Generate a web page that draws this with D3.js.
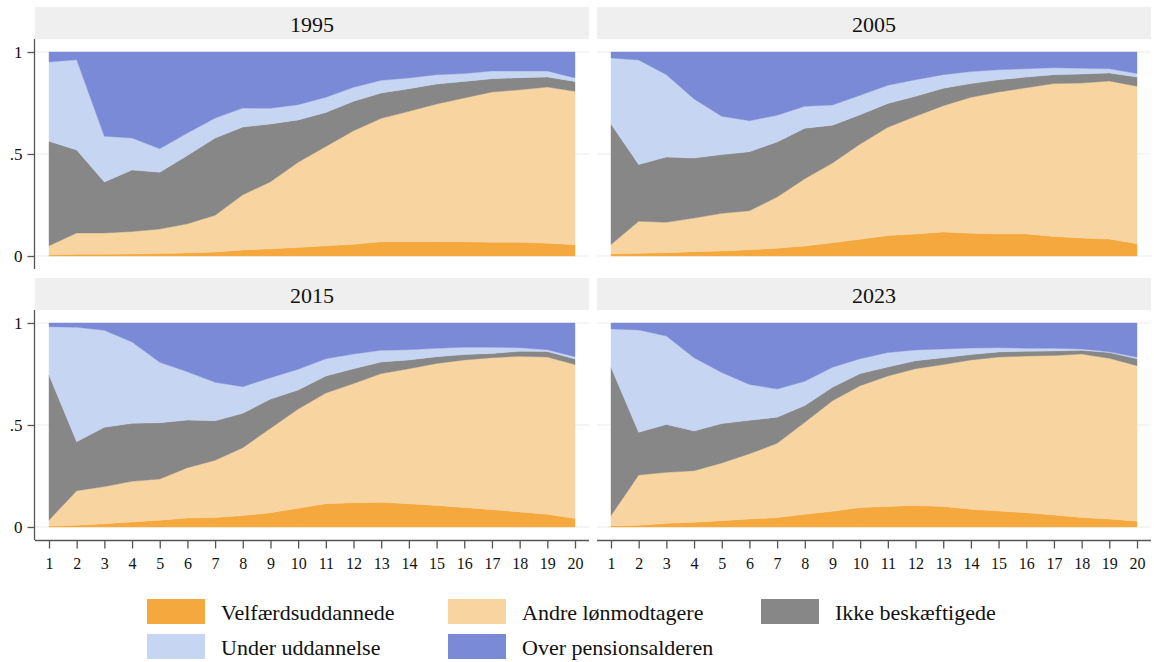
<!DOCTYPE html>
<html>
<head>
<meta charset="utf-8">
<script src="https://cdn.jsdelivr.net/npm/d3@7"></script>
<style>
    body { margin: 0; background: #fff; }
    svg { display: block; font-family: "Liberation Serif", "Times New Roman", serif; }
</style>
</head>
<body>
<svg id="chart" width="1154" height="662"></svg>
<script>
// data, shares per group (x = 1..20)
var years = ['1995', '2005', '2015', '2023'];
var groups = ['Velfærdsuddannede', 'Andre lønmodtagere', 'Ikke beskæftigede', 'Under uddannelse', 'Over pensionsalderen'];
var xTicks = d3.range(1, 21);
var yTicks = [0, 0.5, 1];
var yTickLabels = ['0', '.5', '1'];

var velf1995 = [0.005,0.008,0.008,0.010,0.012,0.015,0.020,0.030,0.035,0.042,0.050,0.057,0.070,0.070,0.070,0.070,0.067,0.067,0.063,0.055];
var andre1995 = [0.045,0.105,0.105,0.110,0.120,0.143,0.180,0.270,0.329,0.418,0.487,0.557,0.605,0.639,0.675,0.705,0.737,0.748,0.765,0.752];
var ikke1995 = [0.512,0.407,0.250,0.302,0.278,0.335,0.378,0.332,0.283,0.207,0.167,0.144,0.124,0.111,0.098,0.081,0.065,0.059,0.049,0.049];
var under1995 = [0.389,0.442,0.224,0.156,0.116,0.110,0.098,0.093,0.077,0.075,0.074,0.069,0.062,0.053,0.046,0.038,0.038,0.033,0.030,0.017];
var over1995 = [0.049,0.038,0.413,0.422,0.474,0.397,0.324,0.275,0.276,0.258,0.222,0.173,0.139,0.127,0.111,0.106,0.093,0.093,0.093,0.127];

var velf2005 = [0.010,0.013,0.016,0.021,0.025,0.031,0.038,0.049,0.065,0.082,0.100,0.108,0.118,0.111,0.108,0.108,0.096,0.088,0.083,0.060];
var andre2005 = [0.046,0.157,0.149,0.165,0.184,0.191,0.251,0.330,0.391,0.467,0.531,0.577,0.619,0.667,0.696,0.717,0.749,0.760,0.775,0.772];
var ikke2005 = [0.591,0.278,0.320,0.294,0.288,0.289,0.270,0.247,0.185,0.144,0.117,0.098,0.085,0.067,0.060,0.052,0.044,0.044,0.039,0.045];
var under2005 = [0.324,0.513,0.404,0.290,0.188,0.152,0.131,0.108,0.099,0.095,0.089,0.081,0.067,0.059,0.049,0.041,0.034,0.028,0.021,0.017];
var over2005 = [0.029,0.039,0.111,0.230,0.315,0.337,0.310,0.266,0.260,0.212,0.163,0.136,0.111,0.096,0.087,0.082,0.077,0.080,0.082,0.106];

var velf2015 = [0.005,0.008,0.016,0.025,0.033,0.044,0.046,0.056,0.070,0.092,0.114,0.119,0.121,0.114,0.106,0.096,0.085,0.074,0.062,0.042];
var andre2015 = [0.029,0.170,0.182,0.199,0.202,0.247,0.281,0.333,0.414,0.486,0.543,0.584,0.631,0.662,0.696,0.723,0.745,0.763,0.771,0.754];
var ikke2015 = [0.711,0.240,0.291,0.284,0.276,0.233,0.194,0.168,0.143,0.094,0.083,0.073,0.057,0.043,0.033,0.026,0.021,0.024,0.027,0.028];
var under2015 = [0.237,0.561,0.475,0.399,0.296,0.237,0.188,0.131,0.105,0.101,0.085,0.072,0.057,0.050,0.041,0.036,0.030,0.018,0.009,0.011];
var over2015 = [0.018,0.021,0.036,0.093,0.193,0.239,0.291,0.312,0.268,0.227,0.175,0.152,0.134,0.131,0.124,0.119,0.119,0.121,0.131,0.165];

var velf2023 = [0.005,0.008,0.018,0.023,0.031,0.039,0.046,0.062,0.077,0.095,0.101,0.106,0.100,0.087,0.078,0.070,0.059,0.047,0.039,0.028];
var andre2023 = [0.051,0.247,0.250,0.253,0.283,0.320,0.364,0.451,0.542,0.598,0.639,0.670,0.696,0.732,0.755,0.768,0.782,0.801,0.788,0.763];
var ikke2023 = [0.727,0.209,0.235,0.195,0.193,0.164,0.128,0.082,0.066,0.059,0.044,0.039,0.034,0.026,0.025,0.023,0.022,0.018,0.028,0.034];
var under2023 = [0.188,0.502,0.433,0.359,0.250,0.176,0.138,0.119,0.098,0.073,0.071,0.053,0.043,0.032,0.021,0.015,0.013,0.007,0.004,0.007];
var over2023 = [0.029,0.034,0.064,0.170,0.243,0.301,0.324,0.286,0.217,0.175,0.145,0.132,0.127,0.123,0.121,0.124,0.124,0.127,0.141,0.168];

var colors = ['#f4a83d', '#f8d4a0', '#878787', '#c6d5f1', '#7b8ad6'];

var series = {
    '1995': [velf1995, andre1995, ikke1995, under1995, over1995],
    '2005': [velf2005, andre2005, ikke2005, under2005, over2005],
    '2015': [velf2015, andre2015, ikke2015, under2015, over2015],
    '2023': [velf2023, andre2023, ikke2023, under2023, over2023]
};

function rows(year) {
    return xTicks.map(function(x, i) {
        var r = {x: x};
        groups.forEach(function(g, k) { r[g] = series[year][k][i]; });
        return r;
    });
}

var svg = d3.select('#chart');

var panelW = 554, headerH = 32, pad = 14;
var panels = [
    {year: '1995', left: 35, top: 7, col: 0, row: 0},
    {year: '2005', left: 597, top: 7, col: 1, row: 0},
    {year: '2015', left: 35, top: 278, col: 0, row: 1},
    {year: '2023', left: 597, top: 278, col: 1, row: 1}
];

var stack = d3.stack().keys(groups);

panels.forEach(function(p) {
    var g = svg.append('g').attr('transform', 'translate(' + p.left + ',' + p.top + ')');

    // header strip
    g.append('rect')
        .attr('x', 0).attr('y', 0)
        .attr('width', panelW).attr('height', headerH)
        .attr('fill', '#efefef');
    g.append('text')
        .attr('x', panelW / 2).attr('y', headerH / 2 + 1)
        .attr('text-anchor', 'middle')
        .attr('dominant-baseline', 'central')
        .style('font-size', '22px')
        .attr('fill', '#111')
        .text(p.year);

    var x = d3.scaleLinear().domain([1, 20]).range([pad, panelW - pad]);
    var y = d3.scaleLinear().domain([0, 1]).range([249, 45]);

    // gridlines
    g.selectAll('.grid').data(yTicks).enter().append('line')
        .attr('class', 'grid')
        .attr('x1', 0).attr('x2', panelW)
        .attr('y1', function(d) { return y(d); })
        .attr('y2', function(d) { return y(d); })
        .attr('stroke', '#ececec')
        .attr('stroke-width', 1.2);

    var area = d3.area()
        .x(function(d) { return x(d.data.x); })
        .y0(function(d) { return y(d[0]); })
        .y1(function(d) { return y(d[1]); });

    g.selectAll('.layer').data(stack(rows(p.year))).enter().append('path')
        .attr('class', 'layer')
        .attr('d', area)
        .attr('fill', function(d, i) { return colors[i]; })
        .attr('stroke', function(d, i) { return colors[i]; })
        .attr('stroke-width', 0.4);

    // y axis on left column
    if (p.col === 0) {
        var yAxis = d3.axisLeft(y).tickValues(yTicks).tickSize(7).tickPadding(5)
            .tickFormat(function(d, i) { return yTickLabels[i]; });
        var ya = g.append('g').attr('transform', 'translate(-0.5,0)').call(yAxis);
        ya.select('.domain').attr('d', 'M0,' + (headerH) + 'V' + (headerH + 230));
        ya.selectAll('path, line').attr('stroke', '#555').attr('stroke-width', 1.3);
        ya.selectAll('text').style('font-size', '17px').style('font-family', '"Liberation Serif", serif').attr('fill', '#111');
    }

    // x axis on bottom row
    if (p.row === 1) {
        var xAxis = d3.axisBottom(x).tickValues(xTicks).tickSize(8).tickPadding(9)
            .tickFormat(d3.format('d'));
        var xa = g.append('g').attr('transform', 'translate(0,' + (headerH + 230.5) + ')').call(xAxis);
        xa.select('.domain').attr('d', 'M0,0H' + panelW);
        xa.selectAll('path, line').attr('stroke', '#555').attr('stroke-width', 1.3);
        xa.selectAll('text').style('font-size', '16px').style('font-family', '"Liberation Serif", serif').attr('fill', '#111');
    }
});

// legend
var legendPos = [
    {x: 147, y: 599}, {x: 448, y: 599}, {x: 761, y: 599},
    {x: 147, y: 634}, {x: 448, y: 634}
];
var legend = svg.selectAll('.legend').data(groups).enter().append('g')
    .attr('class', 'legend')
    .attr('transform', function(d, i) { return 'translate(' + legendPos[i].x + ',' + legendPos[i].y + ')'; });
legend.append('rect')
    .attr('width', 58).attr('height', 25)
    .attr('fill', function(d, i) { return colors[i]; });
legend.append('text')
    .attr('x', 74).attr('y', 13)
    .attr('dominant-baseline', 'central')
    .style('font-size', '22px')
    .attr('fill', '#111')
    .text(function(d) { return d; });
</script>
</body>
</html>
